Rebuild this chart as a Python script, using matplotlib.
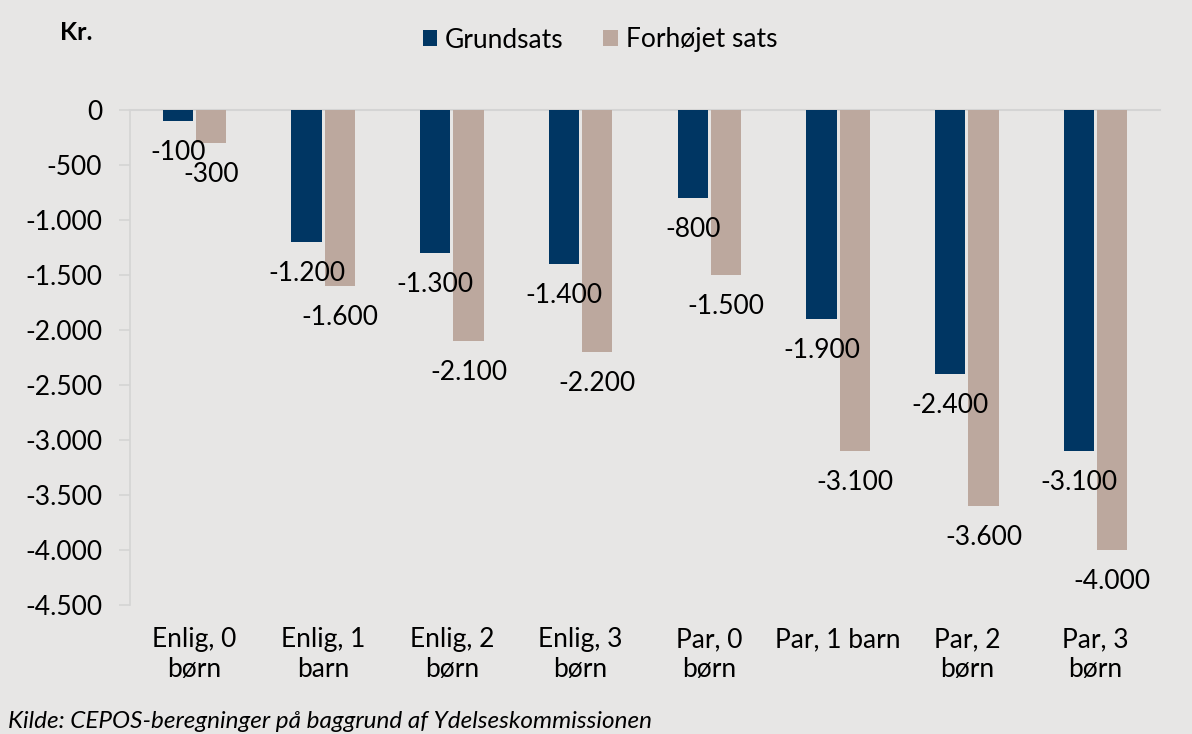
import matplotlib.pyplot as plt
import numpy as np

# DATA
kategorier = ["Enlig, 0\nbørn", "Enlig, 1\nbarn", "Enlig, 2\nbørn", "Enlig, 3\nbørn",
              "Par, 0\nbørn", "Par, 1 barn", "Par, 2\nbørn", "Par, 3\nbørn"]
grundsats = [-100, -1200, -1300, -1400, -800, -1900, -2400, -3100]
forhoejet = [-300, -1600, -2100, -2200, -1500, -3100, -3600, -4000]
y_ticks = [0, -500, -1000, -1500, -2000, -2500, -3000, -3500, -4000, -4500]

bg = '#e7e6e5'
blue = '#003663'
tan = '#bca89e'
axcol = '#d4d4d4'

plt.rcParams['font.family'] = ['Lato', 'DejaVu Sans']

fig = plt.figure(figsize=(11.92, 7.34), dpi=100, facecolor=bg)
ax = fig.add_axes([130/1192, 1 - 605/734, 1030/1192, 495/734])
ax.set_facecolor(bg)

x = np.arange(len(kategorier))
w = 0.235
gap = 0.012
b1 = ax.bar(x - w/2 - gap, grundsats, w, color=blue, label='Grundsats')
b2 = ax.bar(x + w/2 + gap, forhoejet, w, color=tan, label='Forhøjet sats')

def fmt(v):
    return '{:,}'.format(v).replace(',', '.')

fs = 19
for bars, vals in [(b1, grundsats), (b2, forhoejet)]:
    for r, v in zip(bars, vals):
        ax.annotate(fmt(v), (r.get_x() + r.get_width()/2, v), xytext=(0, -14),
                    textcoords='offset points', ha='center', va='top', fontsize=fs)

ax.set_xlim(-0.5, len(kategorier) - 0.5)
ax.set_ylim(-4500, 0)
ax.set_yticks(y_ticks)
ax.set_yticklabels([fmt(t) for t in y_ticks], fontsize=fs)
ax.set_xticks(x)
ax.set_xticklabels(kategorier, fontsize=fs, linespacing=1.25)
ax.tick_params(axis='x', length=0, pad=16)
ax.tick_params(axis='y', length=8, color=axcol, width=1.2, pad=12)

for s in ['right', 'bottom']:
    ax.spines[s].set_visible(False)
ax.spines['left'].set_color(axcol)
ax.spines['left'].set_linewidth(1.2)
ax.spines['top'].set_color(axcol)
ax.spines['top'].set_linewidth(1.5)
ax.spines['top'].set_zorder(0)

fig.text(60/1192, 1 - 32/734, 'Kr.', fontsize=fs - 1, fontweight='bold', va='center')
ax.legend(loc='center', bbox_to_anchor=(600/1192, 1 - 40/734), bbox_transform=fig.transFigure,
          ncol=2, frameon=False, fontsize=fs, handlelength=0.55, handleheight=0.55,
          handletextpad=0.3, columnspacing=1.5)
fig.text(8/1192, 1 - 722/734, 'Kilde: CEPOS-beregninger på baggrund af Ydelseskommissionen',
         fontsize=17.5, style='italic', va='center')

fig.savefig('out.png', dpi=100, facecolor=bg)
